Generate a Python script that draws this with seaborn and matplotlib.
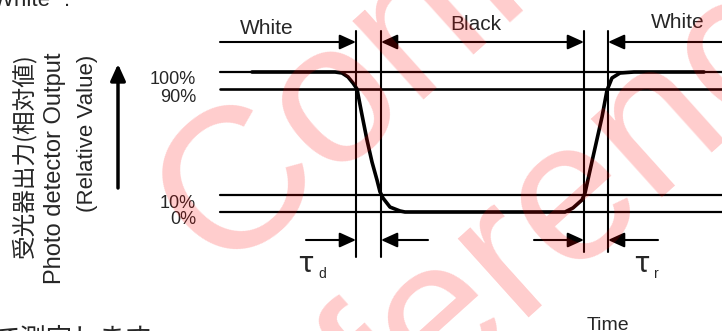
import numpy as np
import matplotlib.pyplot as plt
import seaborn as sns

# -------------------------
# 1. Daten
# -------------------------
levels = [0, 10, 90, 100]
level_labels = ['0%', '10%', '90%', '100%']

# Zeit (px) und Ausgangspegel (%) des Fotodetektors
t_signal = [252, 335, 342, 348, 353, 357, 362, 367, 372, 377, 380, 383, 390, 400, 405,
            565, 573, 582, 585, 593, 602, 607, 612, 620, 634, 704]
v_signal = [100, 100, 99.4, 97.1, 93.5, 90, 70.4, 51.5, 34.9, 21.3, 12.4, 8.2, 2.9, 0.6, 0,
            0, 2.4, 7.1, 11.5, 38.7, 68.9, 89, 96.5, 99.4, 100, 100]

phase_labels = ['White', 'Black', 'White']
tau_labels = [('τ', 'd'), ('τ', 'r')]

# -------------------------
# 2. Layout
# -------------------------
level_y = [212, 195, 89, 72]      # Pixelhöhe der Pegellinien
edge_x = [356, 381, 584, 608]     # senkrechte Markierungen


def to_y(v):
    return np.interp(v, levels, level_y)


sns.set_theme(style="white")
plt.rcParams['font.family'] = ['Liberation Sans', 'Noto Sans CJK JP', 'DejaVu Sans']

fig = plt.figure(figsize=(7.22, 3.31), dpi=100)
ax = fig.add_axes([0, 0, 1, 1])
ax.set_xlim(0, 722)
ax.set_ylim(331, 0)
ax.axis('off')

# Pegellinien
for lv, lab in zip(levels, level_labels):
    y = to_y(lv)
    ax.plot([220, 722], [y, y], color='black', lw=1.6 if lv != 90 else 1.9)
    ax.text(196, y + 8, lab, ha='right', va='center', fontsize=13)

# Signal
sns.lineplot(x=t_signal, y=to_y(v_signal), sort=False, color='black', lw=2.6, ax=ax)

# Senkrechte Linien
for x, yb in zip(edge_x, [257, 257, 252, 252]):
    ax.plot([x, x], [31, yb], color='black', lw=1.5)


def arrow(x0, y0, x1, y1, lw=1.5, ms=18):
    ax.annotate('', xy=(x1, y1), xytext=(x0, y0),
                arrowprops=dict(arrowstyle='-|>,head_length=0.55,head_width=0.25',
                                color='black', lw=lw, mutation_scale=ms,
                                shrinkA=0, shrinkB=0))


# Obere Pfeile
arrow(220, 42, 356, 42)
arrow(480, 42, 381, 42)
arrow(480, 42, 584, 42)
arrow(722, 42, 608, 42)
ax.text(267, 28, phase_labels[0], ha='center', va='center', fontsize=15)
ax.text(476, 25, phase_labels[1], ha='center', va='center', fontsize=15)
ax.text(678, 22, phase_labels[2], ha='center', va='center', fontsize=15)

# Untere Pfeile
arrow(306, 240, 356, 240)
arrow(428, 240, 381, 240)
arrow(534, 240, 584, 240)
arrow(658, 240, 608, 240)
for (tau, sub), x in zip(tau_labels, [298, 634]):
    ax.text(x, 272, tau, ha='left', va='baseline', fontsize=21,
            family=['Noto Sans CJK JP'])
    ax.text(x + 20, 278, sub, ha='left', va='baseline', fontsize=10)

# Zeitachse
arrow(540, 293, 727, 293, lw=3.2, ms=20)
ax.text(608, 334, 'Time', ha='center', va='bottom', fontsize=14)

# y-Achse
arrow(118, 188, 118, 64, lw=2.5)
ax.text(24, 53, '受光器出力(相対値)', rotation=90, ha='center', va='top', fontsize=17,
        family=['Noto Sans CJK JP', 'DejaVu Sans'])
ax.text(55, 53, 'Photo detector Output', rotation=90, ha='center', va='top', fontsize=17)
ax.text(88, 55, '(Relative Value)', rotation=90, ha='center', va='top', fontsize=16)

# Textreste vom Dokument
ax.text(-7, 6, 'White" .', ha='left', va='baseline', fontsize=16)
ax.text(-6, 325, 'て測定します', ha='left', va='top', fontsize=19,
        family=['Noto Sans CJK JP'])

# Wasserzeichen
for txt, (x, y) in [('Confidential', (220, 273)), ('Reference', (199, 600))]:
    ax.text(x, y, txt, rotation=42, rotation_mode='anchor', ha='left', va='baseline',
            fontsize=145, color='red', alpha=0.2, zorder=10)

plt.savefig('out.png', dpi=100)
